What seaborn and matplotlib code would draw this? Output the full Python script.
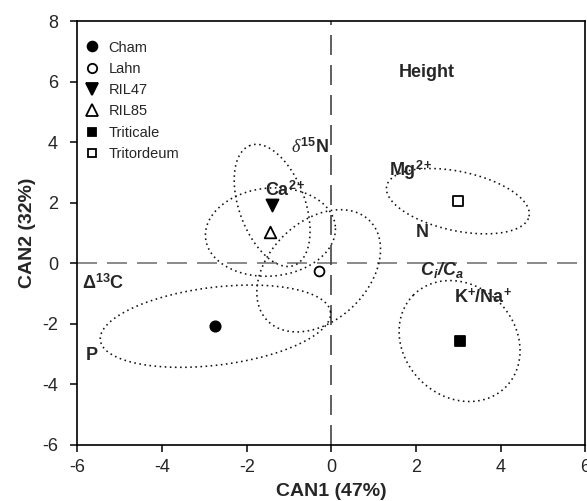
import numpy as np
import pandas as pd
import matplotlib
matplotlib.use("Agg")
import matplotlib.pyplot as plt
from matplotlib.lines import Line2D
import seaborn as sns

# Group centroids on the first two canonical axes
groups = ["Cham", "Lahn", "RIL47", "RIL85", "Triticale", "Tritordeum"]
can1 = [-2.74, -0.30, -1.40, -1.44, 3.03, 2.99]
can2 = [-2.08, -0.25, 1.91, 1.03, -2.57, 2.05]

# Confidence ellipses: semi-axes (CAN1 units) and orientation (degrees)
ell_major = [2.74, 1.69, 1.51, 1.54, 1.54, 1.72]
ell_minor = [0.92, 1.17, 0.78, 1.04, 1.31, 0.70]
ell_angle = [7, 44, 110, 5, 135, -12]

# Variable labels (structure coefficients)
var_labels = ["Height", r"$\delta^{15}$N", r"Ca$^{2+}$", r"Mg$^{2+}$", "N",
              r"$\mathbfit{C_i/C_a}$", r"K$^{+}$/Na$^{+}$", r"$\Delta^{13}$C", "P"]
var_x = [2.25, -0.05, -1.09, 1.87, 2.15, 2.62, 3.59, -5.39, -5.65]
var_y = [6.30, 3.83, 2.41, 3.07, 1.02, -0.23, -1.12, -0.66, -3.04]

markers = ["o", "o", "v", "^", "s", "s"]
faces = ["black", "white", "black", "white", "black", "white"]
msizes = [55, 50, 75, 70, 45, 45]

sns.set_style("ticks")
plt.rcParams["font.family"] = ["Liberation Sans", "DejaVu Sans"]
plt.rcParams["mathtext.fontset"] = "custom"
plt.rcParams["mathtext.rm"] = "Liberation Sans:bold"
plt.rcParams["mathtext.bf"] = "Liberation Sans:bold"
plt.rcParams["mathtext.it"] = "Liberation Serif:italic"
plt.rcParams["mathtext.bfit"] = "Liberation Sans:italic:bold"

fig = plt.figure(figsize=(5.87, 5.01), dpi=100)
ax = fig.add_axes([0.132, 0.112, 0.865, 0.846])

xlim = (-6, 6)
ylim = (-6, 8)
ax.set_xlim(*xlim)
ax.set_ylim(*ylim)

# reference lines through the origin
ax.axhline(0, color="#777777", lw=1.2, ls=(0, (12, 6)), zorder=1)
ax.axvline(0, color="#444444", lw=1.2, ls=(0, (12, 6)), zorder=1)

# ellipses drawn in a space scaled to the axes box so angles read visually
bbox = ax.get_window_extent()
k = (bbox.height / (ylim[1] - ylim[0])) / (bbox.width / (xlim[1] - xlim[0]))
t = np.linspace(0, 2 * np.pi, 300)
for cx, cy, a, b, ang in zip(can1, can2, ell_major, ell_minor, ell_angle):
    th = np.deg2rad(ang)
    ex = a * np.cos(t) * np.cos(th) - b * np.sin(t) * np.sin(th)
    ey = a * np.cos(t) * np.sin(th) + b * np.sin(t) * np.cos(th)
    df_e = pd.DataFrame({"x": cx + ex, "y": cy + ey / k})
    sns.lineplot(data=df_e, x="x", y="y", sort=False, estimator=None, ax=ax,
                 color="#111111", lw=1.15, ls=(0, (1, 2.2)), zorder=2)

df = pd.DataFrame({"CAN1": can1, "CAN2": can2, "group": groups})
handles = []
for g, m, fc, s in zip(groups, markers, faces, msizes):
    sub = df[df["group"] == g]
    sns.scatterplot(data=sub, x="CAN1", y="CAN2", marker=m, s=s, color=fc,
                    edgecolor="black", linewidth=1.3, ax=ax, zorder=4, legend=False)
    handles.append(Line2D([], [], ls="none", marker=m, markersize=np.sqrt(s) * 0.95,
                          markerfacecolor=fc, markeredgecolor="black",
                          markeredgewidth=1.3, label=g))

for lab, x, y in zip(var_labels, var_x, var_y):
    ha = "right" if lab.startswith(r"$\delta") else "center"
    ax.text(x, y, lab, ha=ha, va="center", fontsize=13, fontweight="bold", zorder=5)

leg = ax.legend(handles=handles, loc="upper left", bbox_to_anchor=(-0.008, 0.978),
                frameon=False, fontsize=10.5, handletextpad=0.5, labelspacing=0.5,
                handlelength=1.2, borderaxespad=0.3)

ax.set_xticks(np.arange(-6, 7, 2))
ax.set_yticks(np.arange(-6, 9, 2))
ax.set_xticklabels([str(v) for v in range(-6, 7, 2)])
ax.set_yticklabels([str(v) for v in range(-6, 9, 2)])
ax.tick_params(axis="both", labelsize=13, direction="out", length=5, width=1.1,
               top=False, right=False, color="black")
ax.tick_params(axis="x", pad=5)
ax.tick_params(axis="y", pad=9)
for sp in ax.spines.values():
    sp.set_visible(True)
    sp.set_linewidth(1.2)
    sp.set_color("black")

ax.set_xlabel("CAN1 (47%)", fontsize=14, fontweight="bold", labelpad=5)
ax.set_ylabel("CAN2 (32%)", fontsize=14, fontweight="bold", labelpad=4)

fig.savefig("out.png", dpi=100)
